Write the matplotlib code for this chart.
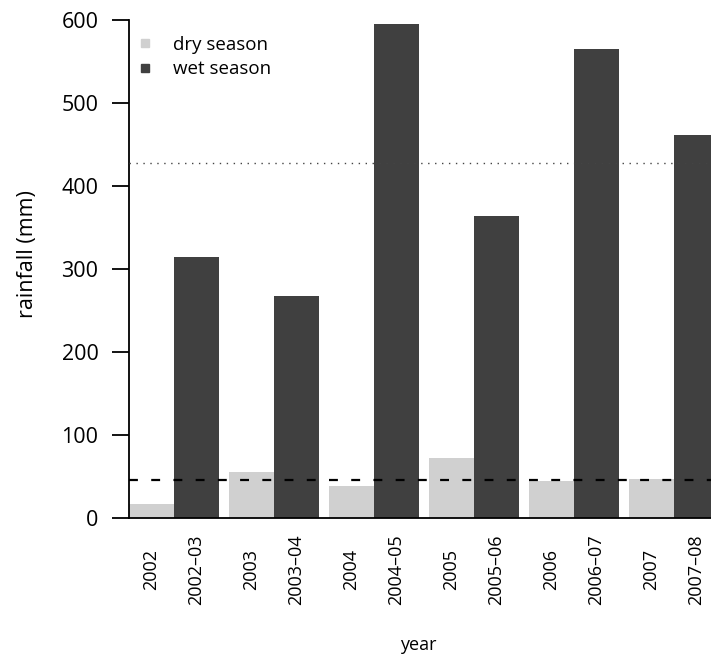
import numpy as np
import matplotlib
matplotlib.use('Agg')
from matplotlib import pyplot as plt
from matplotlib.lines import Line2D

plt.rcParams['font.family'] = ['Open Sans', 'DejaVu Sans']

# data
dry_labels = ['2002', '2003', '2004', '2005', '2006', '2007']
wet_labels = ['2002\u201303', '2003\u201304', '2004\u201305', '2005\u201306', '2006\u201307', '2007\u201308']
dry_rain = [17, 55, 38, 72, 44, 47]
wet_rain = [314, 268, 595, 364, 565, 462]
y_ticks = [0, 100, 200, 300, 400, 500, 600]

DRY_COLOR = '#d0d0d0'
WET_COLOR = '#404040'

fig = plt.figure(figsize=(7.11, 6.57), dpi=100)
ax = fig.add_axes([0.1814, 0.2116, 0.8186, 0.7706])

step = 2.22
pairs = np.arange(len(dry_rain)) * step
ax.bar(pairs, dry_rain, width=1.0, align='edge', color=DRY_COLOR, linewidth=0)
ax.bar(pairs + 1, wet_rain, width=1.0, align='edge', color=WET_COLOR, linewidth=0)

# mean lines
ax.axhline(np.mean(dry_rain), color='black', linestyle=(0, (4, 6)), linewidth=1.6, zorder=3)
ax.axhline(np.mean(wet_rain), color='#444444', linestyle=(0, (1, 4)), linewidth=1.0, zorder=3)
ax.axhline(0, color='black', linewidth=1.3, zorder=4, clip_on=False)

ax.set_xlim(0, 12.93)
ax.set_ylim(0, 610)

for s in ['top', 'right', 'bottom']:
    ax.spines[s].set_visible(False)
ax.spines['left'].set_bounds(0, 600)
ax.spines['left'].set_linewidth(1.3)

ax.set_yticks(y_ticks)
ax.tick_params(axis='y', length=12, width=1.3, pad=10, labelsize=15.5)

centers = []
labels = []
for p, d, w in zip(pairs, dry_labels, wet_labels):
    centers += [p + 0.5, p + 1.5]
    labels += [d, w]
ax.set_xticks(centers)
ax.set_xticklabels(labels, rotation=90, va='center', ha='center', fontsize=13)
ax.tick_params(axis='x', length=0, pad=37)

fig.text(418 / 711, 1 - 645 / 657, 'year', ha='center', va='center', fontsize=13)
fig.text(27 / 711, 1 - 254 / 657, 'rainfall (mm)', rotation=90, ha='center', va='center', fontsize=15.5)

handles = [Line2D([], [], marker='s', linestyle='none', color=DRY_COLOR, markersize=6),
           Line2D([], [], marker='s', linestyle='none', color=WET_COLOR, markersize=6)]
ax.legend(handles, ['dry season', 'wet season'], loc='upper left', frameon=False,
          fontsize=13.5, handletextpad=0.9, labelspacing=0.35, borderaxespad=0.0,
          handlelength=1.2, bbox_to_anchor=(-0.005, 0.967))

fig.savefig('out.png', dpi=100)
